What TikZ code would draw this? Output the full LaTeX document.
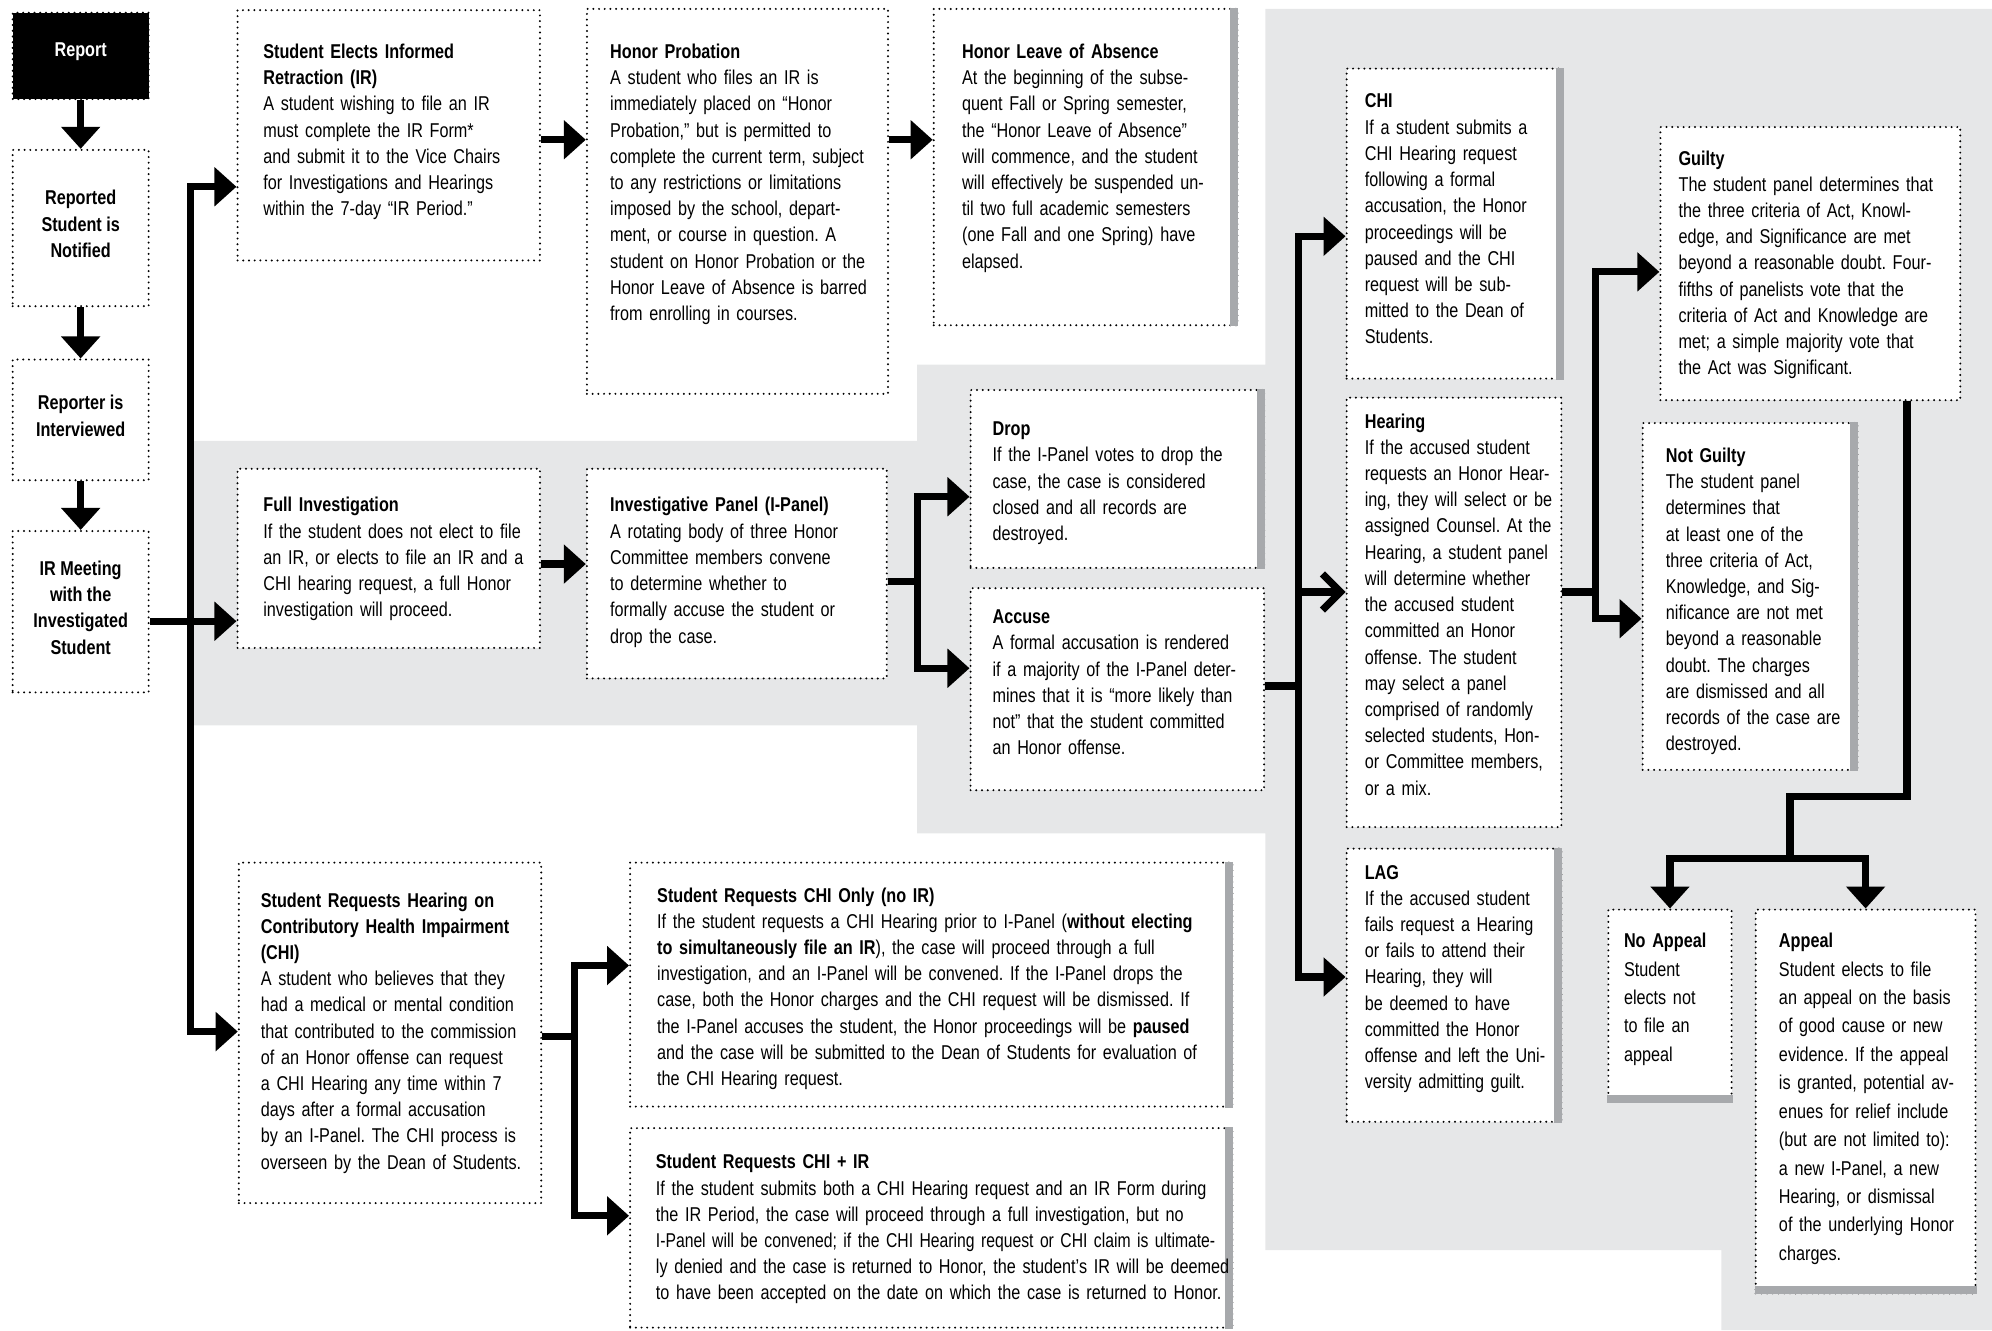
\documentclass[tikz,border=0pt]{standalone}
\usepackage{fontspec}
\setmainfont{Liberation Sans}[FakeStretch=0.81]
\usetikzlibrary{arrows.meta, fit}
\definecolor{panelgray}{HTML}{E6E7E8}
\definecolor{bargray}{HTML}{A7A9AC}
\frenchspacing

\begin{document}
\begin{tikzpicture}[x=0.635pt, y=-0.635pt, >={Triangle[width=19pt,length=11pt]},
  box node/.style={draw, line width=1.1pt, line cap=round, dash pattern=on 0pt off 2.85pt, fill=white, inner sep=0pt},
  stage text/.style={anchor=center, inner sep=0pt, align=center, font=\bfseries\fontsize{10}{13.1}\selectfont},
  text node/.style={anchor=base west, inner sep=0pt, align=left, text width=330pt, font=\fontsize{10}{13.1}\selectfont},
  wide text/.style={text node, font=\fontsize{10}{14.2}\selectfont},
  flow/.style={line width=3.6pt},
  side bar/.style={fill=bargray}]

  \useasboundingbox (0,0) rectangle (1568,1047);

  % shaded bands
  \fill[panelgray] (150,347) -- (722,347) -- (722,287) -- (996,287) -- (996,7) -- (1568,7)
    -- (1568,1047) -- (1355,1047) -- (1355,984) -- (996,984) -- (996,656) -- (722,656)
    -- (722,571) -- (150,571) -- cycle;

  % left column
  \node[box node, fill=black, fit={(10,10) (117,78)}] (report) {};
  \node[box node, fit={(10,118) (117,241)}] (notified) {};
  \node[box node, fit={(10,283) (117,378)}] (interview) {};
  \node[box node, fit={(10,418) (117,545)}] (irmeet) {};
  \node[stage text, text=white] (report-txt) at ([yshift=2pt]report.center) {Report};
  \node[stage text] (notified-txt) at ([yshift=2pt]notified.center) {Reported\\Student is\\Notified};
  \node[stage text] (interview-txt) at ([yshift=2pt]interview.center) {Reporter is\\Interviewed};
  \node[stage text] (irmeet-txt) at ([yshift=2pt]irmeet.center) {IR Meeting\\with the\\Investigated\\Student};

  % boxes
  \node[box node, fit={(187,8) (425,205)}] (retract) {};
  \node[box node, fit={(462,7) (699,310)}] (probation) {};
  \node[box node, fit={(735,7) (974,256)}] (leave) {};
  \node[box node, fit={(187,369) (425,510)}] (fullinv) {};
  \node[box node, fit={(462,369) (698,534)}] (ipanel) {};
  \node[box node, fit={(764,307) (995,447)}] (drop) {};
  \node[box node, fit={(764,463) (995,622)}] (accuse) {};
  \node[box node, fit={(1060,54) (1230,298)}] (chi) {};
  \node[box node, fit={(1060,313) (1229,651)}] (hearing) {};
  \node[box node, fit={(1060,668) (1229,883)}] (lag) {};
  \node[box node, fit={(1307,100) (1543,315)}] (guilty) {};
  \node[box node, fit={(1293,333) (1462,606)}] (notguilty) {};
  \node[box node, fit={(1266,716) (1363,867)}] (noappeal) {};
  \node[box node, fit={(1382,716) (1555,1018)}] (appeal) {};
  \node[box node, fit={(188,679) (426,947)}] (chireq) {};
  \node[box node, fit={(496,679) (970,871)}] (chionly) {};
  \node[box node, fit={(496,888) (970,1045)}] (chiir) {};

  \foreach \n in {leave,drop,chi,lag,notguilty,chionly,chiir}
    \fill[side bar] ([xshift=-4pt]\n.north east) rectangle (\n.south east);
  \foreach \n in {noappeal,appeal}
    \fill[side bar] (\n.south west) rectangle ([yshift=4pt]\n.south east);

  % texts
  \node[text node] (retract-txt) at (207,46) {\textbf{Student Elects Informed\\Retraction (IR)}\\A student wishing to file an IR\\must complete the IR Form*\\and submit it to the Vice Chairs\\for Investigations and Hearings\\within the 7-day “IR Period.”};
  \node[text node] (probation-txt) at (480,46) {\textbf{Honor Probation}\\A student who files an IR is\\immediately placed on “Honor\\Probation,” but is permitted to\\complete the current term, subject\\to any restrictions or limitations\\imposed by the school, depart-\\ment, or course in question. A\\student on Honor Probation or the\\Honor Leave of Absence is barred\\from enrolling in courses.};
  \node[text node] (leave-txt) at (757,46) {\textbf{Honor Leave of Absence}\\At the beginning of the subse-\\quent Fall or Spring semester,\\the “Honor Leave of Absence”\\will commence, and the student\\will effectively be suspended un-\\til two full academic semesters\\(one Fall and one Spring) have\\elapsed.};
  \node[text node] (fullinv-txt) at (207,403) {\textbf{Full Investigation}\\If the student does not elect to file\\an IR, or elects to file an IR and a\\CHI hearing request, a full Honor\\investigation will proceed.};
  \node[text node] (ipanel-txt) at (480,403) {\textbf{Investigative Panel (I-Panel)}\\A rotating body of three Honor\\Committee members convene\\to determine whether to\\formally accuse the student or\\drop the case.};
  \node[text node] (drop-txt) at (781,343) {\textbf{Drop}\\If the I-Panel votes to drop the\\case, the case is considered\\closed and all records are\\destroyed.};
  \node[text node] (accuse-txt) at (781,491) {\textbf{Accuse}\\A formal accusation is rendered\\if a majority of the I-Panel deter-\\mines that it is “more likely than\\not” that the student committed\\an Honor offense.};
  \node[text node] (chi-txt) at (1074,85) {\textbf{CHI}\\If a student submits a\\CHI Hearing request\\following a formal\\accusation, the Honor\\proceedings will be\\paused and the CHI\\request will be sub-\\mitted to the Dean of\\Students.};
  \node[text node] (hearing-txt) at (1074,337) {\textbf{Hearing}\\If the accused student\\requests an Honor Hear-\\ing, they will select or be\\assigned Counsel. At the\\Hearing, a student panel\\will determine whether\\the accused student\\committed an Honor\\offense. The student\\may select a panel\\comprised of randomly\\selected students, Hon-\\or Committee members,\\or a mix.};
  \node[text node] (lag-txt) at (1074,692) {\textbf{LAG}\\If the accused student\\fails request a Hearing\\or fails to attend their\\Hearing, they will\\be deemed to have\\committed the Honor\\offense and left the Uni-\\versity admitting guilt.};
  \node[text node] (guilty-txt) at (1321,130) {\textbf{Guilty}\\The student panel determines that\\the three criteria of Act, Knowl-\\edge, and Significance are met\\beyond a reasonable doubt. Four-\\fifths of panelists vote that the\\criteria of Act and Knowledge are\\met; a simple majority vote that\\the Act was Significant.};
  \node[text node] (notguilty-txt) at (1311,364) {\textbf{Not Guilty}\\The student panel\\determines that\\at least one of the\\three criteria of Act,\\Knowledge, and Sig-\\nificance are not met\\beyond a reasonable\\doubt. The charges\\are dismissed and all\\records of the case are\\destroyed.};
  \node[wide text] (noappeal-txt) at (1278,746) {\textbf{No Appeal}\\Student\\elects not\\to file an\\appeal};
  \node[wide text] (appeal-txt) at (1400,746) {\textbf{Appeal}\\Student elects to file\\an appeal on the basis\\of good cause or new\\evidence. If the appeal\\is granted, potential av-\\enues for relief include\\(but are not limited to):\\a new I-Panel, a new\\Hearing, or dismissal\\of the underlying Honor\\charges.};
  \node[text node] (chireq-txt) at (205,714) {\textbf{Student Requests Hearing on\\Contributory Health Impairment\\(CHI)}\\A student who believes that they\\had a medical or mental condition\\that contributed to the commission\\of an Honor offense can request\\a CHI Hearing any time within 7\\days after a formal accusation\\by an I-Panel. The CHI process is\\overseen by the Dean of Students.};
  \node[text node] (chionly-txt) at (517,710) {\textbf{Student Requests CHI Only (no IR)}\\If the student requests a CHI Hearing prior to I-Panel (\textbf{without electing}\\\textbf{to simultaneously file an IR}), the case will proceed through a full\\investigation, and an I-Panel will be convened. If the I-Panel drops the\\case, both the Honor charges and the CHI request will be dismissed. If\\the I-Panel accuses the student, the Honor proceedings will be \textbf{paused}\\and the case will be submitted to the Dean of Students for evaluation of\\the CHI Hearing request.};
  \node[text node] (chiir-txt) at (516,920) {\textbf{Student Requests CHI + IR}\\If the student submits both a CHI Hearing request and an IR Form during\\the IR Period, the case will proceed through a full investigation, but no\\\scalebox{0.97}[1]{I-Panel will be convened; if the CHI Hearing request or CHI claim is ultimate-}\\ly denied and the case is returned to Honor, the student’s IR will be deemed\\to have been accepted on the date on which the case is returned to Honor.};

  % connectors
  \coordinate (trunk) at (150,489);
  \coordinate (ipsplit) at (722,458);
  \coordinate (accsplit) at (1022,540);
  \coordinate (hearsplit) at (1256,466);
  \coordinate (chisplit) at (452,816);
  \coordinate (appsplit) at (1409,676);

  \draw[flow,->] (report) -- (notified);
  \draw[flow,->] (notified) -- (interview);
  \draw[flow,->] (interview) -- (irmeet);
  \draw[flow,->] (irmeet.east |- trunk) -- (fullinv.west |- trunk);
  \draw[flow,->] (trunk) |- (retract.west |- 0,147);
  \draw[flow,->] (trunk) |- (chireq.west |- 0,812);
  \draw[flow,->] (retract.east |- 0,110) -- (probation.west |- 0,110);
  \draw[flow,->] (probation.east |- 0,110) -- (leave.west |- 0,110);
  \draw[flow,->] (fullinv.east |- 0,444) -- (ipanel.west |- 0,444);
  \draw[flow] (ipanel.east |- ipsplit) -- (ipsplit);
  \draw[flow,->] (ipsplit) |- (drop.west |- 0,391);
  \draw[flow,->] (ipsplit) |- (accuse.west |- 0,526);
  \draw[flow] (accuse.east |- accsplit) -- (accsplit);
  \draw[flow,->] (accsplit) |- (chi.west |- 0,186);
  \draw[flow,-{Straight Barb[length=9pt,width=18pt]}] (accsplit) |- (hearing.west |- 0,466);
  \draw[flow,->] (accsplit) |- (lag.west |- 0,769);
  \draw[flow] (hearing.east |- hearsplit) -- (hearsplit);
  \draw[flow,->] (hearsplit) |- (guilty.west |- 0,214);
  \draw[flow,->] (hearsplit) |- (notguilty.west |- 0,487);
  \draw[flow] (guilty.south -| 1501,0) |- (appsplit |- 0,627) -- (appsplit);
  \draw[flow,->] (appsplit) -| (noappeal.north);
  \draw[flow,->] (appsplit) -| (appeal.north);
  \draw[flow] (chireq.east |- chisplit) -- (chisplit);
  \draw[flow,->] (chisplit) |- (chionly.west |- 0,760);
  \draw[flow,->] (chisplit) |- (chiir.west |- 0,957);
\end{tikzpicture}
\end{document}
